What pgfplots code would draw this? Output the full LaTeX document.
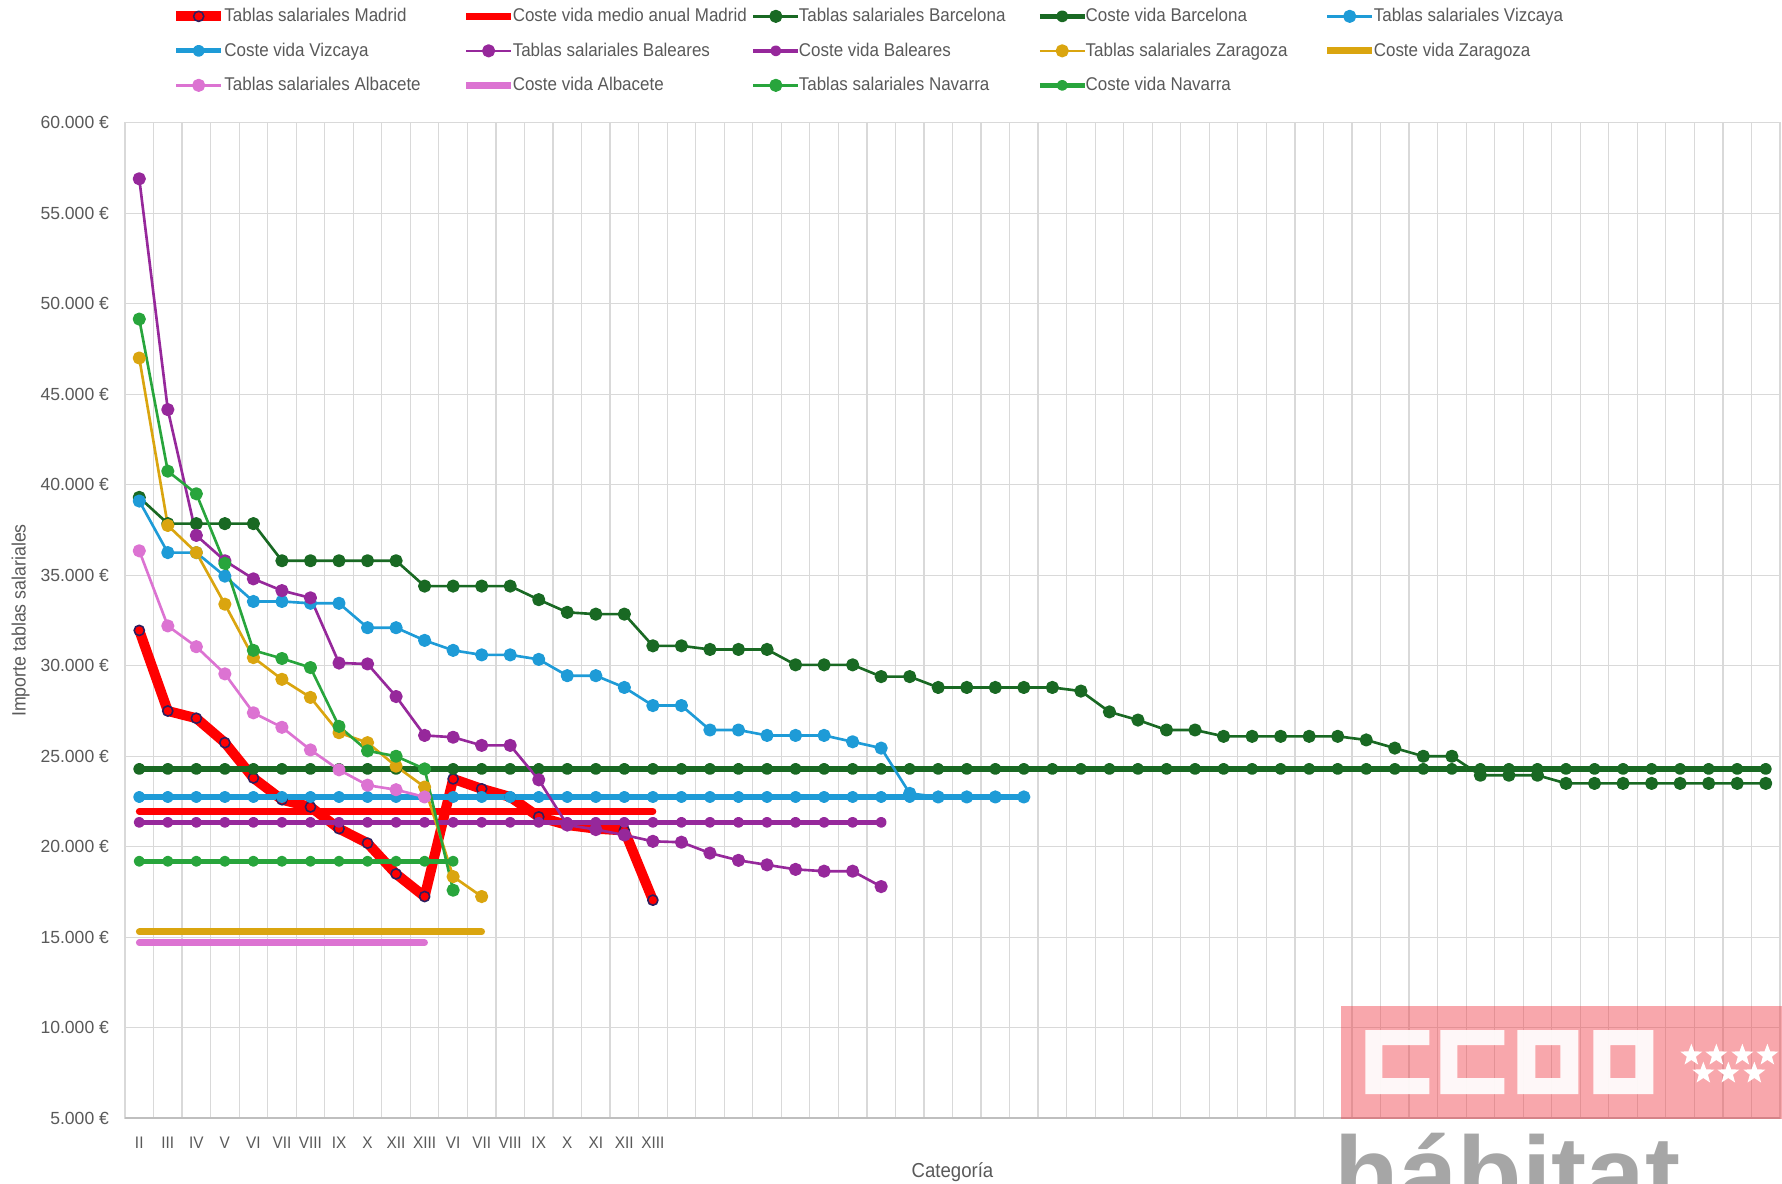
\documentclass[border=0pt]{standalone}
\usepackage{pgfplots}
\pgfplotsset{compat=1.18}
\usepackage{pgfplotstable}
\usetikzlibrary{shapes.geometric}
\usepackage{fontspec}
\setmainfont{Liberation Sans}
\newfontfamily\narrowfont{Liberation Sans}[FakeStretch=0.92]
\newfontfamily\logofont{Liberation Sans}
\newcommand\legfont{\narrowfont\fontsize{10.5}{12}\selectfont}
\newcommand\tickfont{\fontsize{10}{12}\selectfont}

\definecolor{textgray}{RGB}{89,89,89}
\definecolor{gridgray}{RGB}{217,217,217}
\definecolor{axisgray}{RGB}{191,191,191}
\definecolor{madred}{RGB}{255,0,0}
\definecolor{madnavy}{RGB}{45,30,95}
\definecolor{bcn}{RGB}{25,105,35}
\definecolor{viz}{RGB}{30,155,215}
\definecolor{bal}{RGB}{150,40,155}
\definecolor{zar}{RGB}{218,165,15}
\definecolor{alb}{RGB}{220,115,210}
\definecolor{nav}{RGB}{40,165,60}
\definecolor{logored}{RGB}{240,60,70}
\definecolor{logogray}{RGB}{166,166,166}

% Madrid
\pgfplotstableread[row sep=\\]{y\\31950\\27500\\27100\\25750\\23800\\22600\\22200\\21000\\20200\\18500\\17250\\23750\\23200\\22750\\21650\\21200\\21000\\20900\\17050\\}\tMadT
\pgfplotstableread[row sep=\\]{y\\21950\\21950\\21950\\21950\\21950\\21950\\21950\\21950\\21950\\21950\\21950\\21950\\21950\\21950\\21950\\21950\\21950\\21950\\21950\\}\tMadC
% Barcelona
\pgfplotstableread[row sep=\\]{y\\39300\\37850\\37850\\37850\\37850\\35800\\35800\\35800\\35800\\35800\\34400\\34400\\34400\\34400\\33650\\32950\\32850\\32850\\31100\\31100\\30900\\30900\\30900\\30050\\30050\\30050\\29400\\29400\\28800\\28800\\28800\\28800\\28800\\28600\\27450\\27000\\26450\\26450\\26100\\26100\\26100\\26100\\26100\\25900\\25450\\25000\\25000\\23950\\23950\\23950\\23500\\23500\\23500\\23500\\23500\\23500\\23500\\23500\\}\tBcnT
\pgfplotstableread[row sep=\\]{y\\24300\\24300\\24300\\24300\\24300\\24300\\24300\\24300\\24300\\24300\\24300\\24300\\24300\\24300\\24300\\24300\\24300\\24300\\24300\\24300\\24300\\24300\\24300\\24300\\24300\\24300\\24300\\24300\\24300\\24300\\24300\\24300\\24300\\24300\\24300\\24300\\24300\\24300\\24300\\24300\\24300\\24300\\24300\\24300\\24300\\24300\\24300\\24300\\24300\\24300\\24300\\24300\\24300\\24300\\24300\\24300\\24300\\24300\\}\tBcnC
% Vizcaya
\pgfplotstableread[row sep=\\]{y\\39100\\36250\\36250\\34950\\33550\\33550\\33450\\33450\\32100\\32100\\31400\\30850\\30600\\30600\\30350\\29450\\29450\\28800\\27800\\27800\\26450\\26450\\26150\\26150\\26150\\25800\\25450\\22950\\22750\\22750\\22750\\22750\\}\tVizT
\pgfplotstableread[row sep=\\]{y\\22750\\22750\\22750\\22750\\22750\\22750\\22750\\22750\\22750\\22750\\22750\\22750\\22750\\22750\\22750\\22750\\22750\\22750\\22750\\22750\\22750\\22750\\22750\\22750\\22750\\22750\\22750\\22750\\22750\\22750\\22750\\22750\\}\tVizC
% Baleares
\pgfplotstableread[row sep=\\]{y\\56900\\44150\\37200\\35800\\34800\\34150\\33750\\30150\\30100\\28300\\26150\\26050\\25600\\25600\\23700\\21200\\20950\\20650\\20300\\20250\\19650\\19250\\19000\\18750\\18650\\18650\\17800\\}\tBalT
\pgfplotstableread[row sep=\\]{y\\21350\\21350\\21350\\21350\\21350\\21350\\21350\\21350\\21350\\21350\\21350\\21350\\21350\\21350\\21350\\21350\\21350\\21350\\21350\\21350\\21350\\21350\\21350\\21350\\21350\\21350\\21350\\}\tBalC
% Zaragoza
\pgfplotstableread[row sep=\\]{y\\47000\\37750\\36250\\33400\\30450\\29250\\28250\\26300\\25750\\24450\\23300\\18350\\17250\\}\tZarT
\pgfplotstableread[row sep=\\]{y\\15300\\15300\\15300\\15300\\15300\\15300\\15300\\15300\\15300\\15300\\15300\\15300\\15300\\}\tZarC
% Albacete
\pgfplotstableread[row sep=\\]{y\\36350\\32200\\31050\\29550\\27400\\26600\\25350\\24250\\23400\\23150\\22750\\}\tAlbT
\pgfplotstableread[row sep=\\]{y\\14700\\14700\\14700\\14700\\14700\\14700\\14700\\14700\\14700\\14700\\14700\\}\tAlbC
% Navarra
\pgfplotstableread[row sep=\\]{y\\49150\\40750\\39500\\35650\\30850\\30400\\29900\\26650\\25300\\25000\\24300\\17600\\}\tNavT
\pgfplotstableread[row sep=\\]{y\\19200\\19200\\19200\\19200\\19200\\19200\\19200\\19200\\19200\\19200\\19200\\19200\\}\tNavC

\newcommand\lentry[1]{\makebox[4.73cm][l]{\hspace*{-1pt}#1}}

\begin{document}
\begin{tikzpicture}
\begin{axis}[
  at={(2.5cm,1.314cm)}, anchor=south west,
  width=33.1cm, height=19.912cm, scale only axis,
  xmin=-0.5, xmax=57.5, ymin=5000, ymax=60000,
  scaled y ticks=false,
  xtick={0,...,18},
  xticklabels={II,III,IV,V,VI,VII,VIII,IX,X,XII,XIII,VI,VII,VIII,IX,X,XI,XII,XIII},
  major tick length=0pt, minor tick length=0pt,
  minor xtick={-0.5,0.5,...,57.5},
  xminorgrids=true, xmajorgrids=false,
  ytick={5000,10000,15000,20000,25000,30000,35000,40000,45000,50000,55000,60000},
  yticklabels={5.000 €,10.000 €,15.000 €,20.000 €,25.000 €,30.000 €,35.000 €,40.000 €,45.000 €,50.000 €,55.000 €,60.000 €},
  ymajorgrids=true,
  grid style={gridgray, line width=0.7pt},
  minor grid style={gridgray, line width=0.7pt},
  axis line style={gridgray, line width=0.7pt},
  extra y ticks={5000}, extra y tick labels={},
  extra y tick style={grid style={axisgray, line width=0.9pt}},
  xticklabel style={font=\narrowfont\fontsize{9.5}{11}\selectfont, text=textgray, anchor=base, yshift=-17.4pt},
  yticklabel style={font=\tickfont, text=textgray, anchor=east, xshift=-5.6pt},
  xlabel={Categoría},
  ylabel={Importe tablas salariales},
  x label style={font=\narrowfont\fontsize{11.5}{13}\selectfont, text=textgray, at={(axis description cs:0.5,-0.0543)}, anchor=center},
  y label style={font=\narrowfont\fontsize{11}{13}\selectfont, text=textgray, at={(axis description cs:-0.0631,0.5)}, anchor=center},
  legend columns=5,
  legend cell align=left,
  legend image code/.code={\draw[mark repeat=2,mark phase=2,#1,line cap=butt] plot coordinates {(0cm,0cm) (0.45cm,0cm) (0.9cm,0cm)};},
  legend style={at={(axis description cs:0.0277,1.1245)}, anchor=north west, draw=none, fill=none, inner sep=0pt,
    font=\legfont, text=textgray, /tikz/column sep=0pt, /tikz/row sep=0pt,
    nodes={inner xsep=0pt, inner ysep=0pt, minimum height=0.69cm}},
  every axis plot/.append style={line join=round, line cap=round},
]
% Madrid
\addplot[madred, line width=5.7pt, mark=*, mark size=2.9pt, mark options={fill=madred, draw=madnavy, line width=0.9pt}] table[x expr=\coordindex, y=y] {\tMadT};
\addlegendentry{\lentry{Tablas salariales Madrid}}
\addplot[madred, line width=3.9pt, mark=none] table[x expr=\coordindex, y=y] {\tMadC};
\addlegendentry{\lentry{Coste vida medio anual Madrid}}
% Barcelona
\addplot[bcn, line width=1.5pt, mark=*, mark size=3pt, mark options={fill=bcn, draw=bcn}] table[x expr=\coordindex, y=y] {\tBcnT};
\addlegendentry{\lentry{Tablas salariales Barcelona}}
\addplot[bcn, line width=3pt, mark=*, mark size=1.9pt, mark options={fill=bcn, draw=bcn}] table[x expr=\coordindex, y=y] {\tBcnC};
\addlegendentry{\lentry{Coste vida Barcelona}}
% Vizcaya
\addplot[viz, line width=1.5pt, mark=*, mark size=3pt, mark options={fill=viz, draw=viz}] table[x expr=\coordindex, y=y] {\tVizT};
\addlegendentry{\lentry{Tablas salariales Vizcaya}}
\addplot[viz, line width=3pt, mark=*, mark size=1.9pt, mark options={fill=viz, draw=viz}] table[x expr=\coordindex, y=y] {\tVizC};
\addlegendentry{\lentry{Coste vida Vizcaya}}
% Baleares
\addplot[bal, line width=1.5pt, mark=*, mark size=3pt, mark options={fill=bal, draw=bal}] table[x expr=\coordindex, y=y] {\tBalT};
\addlegendentry{\lentry{Tablas salariales Baleares}}
\addplot[bal, line width=2.6pt, mark=*, mark size=1.8pt, mark options={fill=bal, draw=bal}] table[x expr=\coordindex, y=y] {\tBalC};
\addlegendentry{\lentry{Coste vida Baleares}}
% Zaragoza
\addplot[zar, line width=1.5pt, mark=*, mark size=3pt, mark options={fill=zar, draw=zar}] table[x expr=\coordindex, y=y] {\tZarT};
\addlegendentry{\lentry{Tablas salariales Zaragoza}}
\addplot[zar, line width=3.8pt, mark=none] table[x expr=\coordindex, y=y] {\tZarC};
\addlegendentry{\lentry{Coste vida Zaragoza}}
% Albacete
\addplot[alb, line width=1.5pt, mark=*, mark size=3pt, mark options={fill=alb, draw=alb}] table[x expr=\coordindex, y=y] {\tAlbT};
\addlegendentry{\lentry{Tablas salariales Albacete}}
\addplot[alb, line width=3.8pt, mark=none] table[x expr=\coordindex, y=y] {\tAlbC};
\addlegendentry{\lentry{Coste vida Albacete}}
% Navarra
\addplot[nav, line width=1.5pt, mark=*, mark size=3pt, mark options={fill=nav, draw=nav}] table[x expr=\coordindex, y=y] {\tNavT};
\addlegendentry{\lentry{Tablas salariales Navarra}}
\addplot[nav, line width=2.6pt, mark=*, mark size=1.8pt, mark options={fill=nav, draw=nav}] table[x expr=\coordindex, y=y] {\tNavC};
\addlegendentry{\lentry{Coste vida Navarra}}
\end{axis}

% Logo watermark (decoration)
\begin{scope}[shift={(0cm,23.68cm)}, x=0.02cm, y=-0.02cm]
  \fill[logored, opacity=0.45] (1341,1006) rectangle (1782,1119);
  \fill[white, opacity=0.92] (1365,1030) -- (1429,1030) -- (1429,1045) -- (1382,1045) -- (1382,1078) -- (1429,1078) -- (1429,1094) -- (1365,1094) -- cycle;
  \fill[white, opacity=0.92] (1440,1030) -- (1504,1030) -- (1504,1045) -- (1457,1045) -- (1457,1078) -- (1504,1078) -- (1504,1094) -- (1440,1094) -- cycle;
  \fill[white, opacity=0.92, even odd rule] (1517,1030) rectangle (1578,1094) (1535,1045) rectangle (1560,1078);
  \fill[white, opacity=0.92, even odd rule] (1593,1030) rectangle (1653,1094) (1610,1045) rectangle (1635,1078);
  \foreach \sx/\sy in {1691/1055,1716/1055,1742/1055,1767/1055,1703/1073,1728/1073,1754/1073}
    \node[star, star points=5, star point ratio=2.4, fill=white, inner sep=0pt, minimum size=0.46cm] at (\sx,\sy) {};
  \node[anchor=base west, inner sep=0pt, text=logogray, font=\logofont\bfseries\fontsize{60}{62}\selectfont] at (1334,1210) {hábitat};
\end{scope}

\pgfresetboundingbox
\path[use as bounding box] (0,0) rectangle (35.64cm,23.68cm);
\end{tikzpicture}
\end{document}
